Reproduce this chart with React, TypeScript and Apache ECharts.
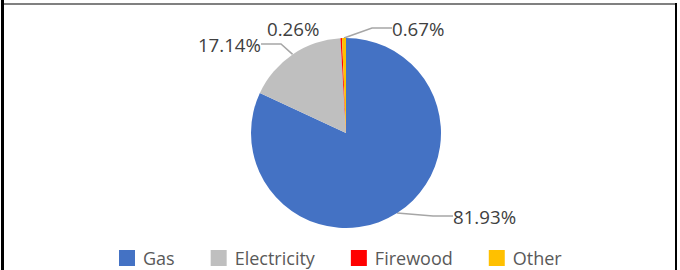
import React, { useEffect, useRef } from "react";
import * as echarts from "echarts";

const categories = ["Gas", "Electricity", "Firewood", "Other"];
const values = [81.93, 17.14, 0.26, 0.67];
const colors = ["#4472C4", "#BFBFBF", "#FF0000", "#FFC000"];
// label anchor placement (layout only)
const labelSpots = [
  { x: 453, y: 216, align: "left" },
  { x: 261, y: 44, align: "right" },
  { x: 267, y: 28, align: "left" },
  { x: 392, y: 28, align: "left" },
];

export default function App() {
  const ref = useRef<HTMLDivElement>(null);
  useEffect(() => {
    if (!ref.current) return;
    const chart = echarts.init(ref.current, undefined, { renderer: "svg" });
    const font = "'Open Sans', 'Noto Sans', sans-serif";
    chart.setOption({
      animation: false,
      backgroundColor: "#ffffff",
      textStyle: { fontFamily: font },
      graphic: [
        { type: "rect", shape: { x: 1, y: 0, width: 3, height: 270 }, style: { fill: "#000000" } },
        { type: "rect", shape: { x: 4, y: 3, width: 672, height: 2 }, style: { fill: "#808080" } },
        { type: "rect", shape: { x: 675, y: 3, width: 2, height: 267 }, style: { fill: "#000000" } },
      ],
      legend: {
        data: categories,
        left: 119,
        top: 249,
        padding: 0,
        icon: "rect",
        itemWidth: 16,
        itemHeight: 16,
        itemGap: 36,
        textStyle: {
          fontFamily: font,
          fontSize: 18,
          lineHeight: 16,
          color: "#595959",
          padding: [0, 0, 0, 3],
        },
      },
      series: [
        {
          type: "pie",
          center: [346, 133],
          radius: [0, 95],
          startAngle: 90,
          clockwise: true,
          avoidLabelOverlap: false,
          color: colors,
          data: categories.map((c, i) => ({
            name: c,
            value: values[i],
            labelLine: { show: i !== 2 },
          })),
          label: {
            show: true,
            position: "outside",
            formatter: (p: any) => p.value.toFixed(2) + "%",
            fontFamily: font,
            fontSize: 18.7,
            color: "#404040",
          },
          labelLine: {
            show: true,
            length: 10,
            length2: 20,
            lineStyle: { color: "#A6A6A6", width: 1.5 },
          },
          labelLayout: (params: any) => {
            const s = labelSpots[params.dataIndex];
            return { x: s.x, y: s.y, align: s.align, verticalAlign: "middle" };
          },
        },
      ],
    });
    return () => chart.dispose();
  }, []);
  return (
    <div
      ref={ref}
      style={{ position: "fixed", left: 0, top: 0, width: 680, height: 270 }}
    />
  );
}
